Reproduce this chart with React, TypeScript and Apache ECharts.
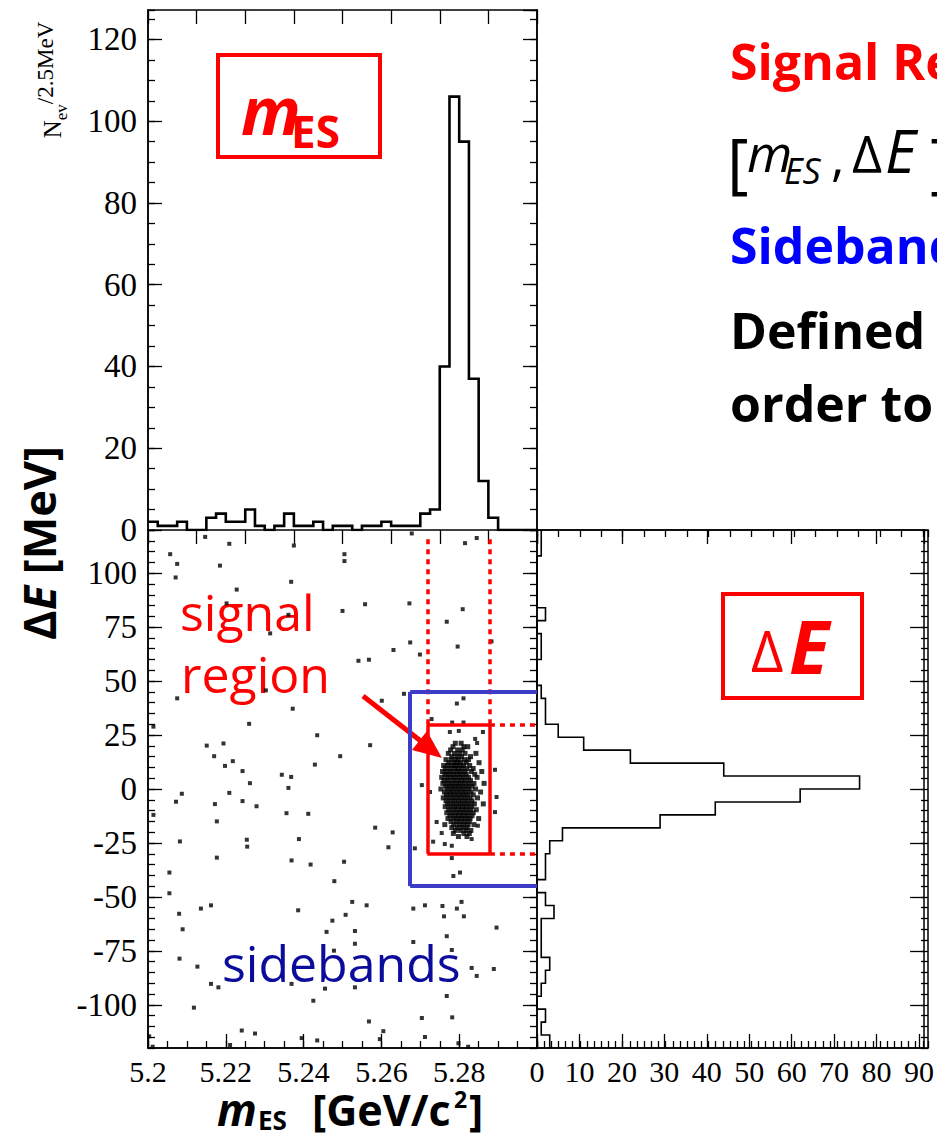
import React, { useEffect, useRef } from "react";
import * as echarts from "echarts";

// m_ES histogram: 40 bins of 2.5 MeV from 5.20 to 5.30 GeV/c^2
const MES_MIN = 5.2;
const MES_MAX = 5.3;
const MES_BIN = 0.0025;
const mesCounts = [
  2, 1, 1, 2, 0, 0, 3, 4, 2, 2,
  5, 1, 0, 1, 4, 1, 1, 2, 0, 1,
  1, 0, 1, 1, 2, 1, 1, 1, 4, 5,
  40, 106, 95, 37, 12, 3, 0, 0, 0, 0,
];

// ΔE histogram: 40 bins of 6 MeV, listed from +120 MeV down to -120 MeV
const DE_MIN = -120;
const DE_MAX = 120;
const DE_BIN = 6;
const deCountsFromTop = [
  1, 1, 0, 0, 0, 0, 2, 0, 1, 1,
  0, 0, 1, 2, 2, 5, 11, 22, 44, 76,
  62, 42, 29, 6, 3, 2, 2, 0, 2, 4,
  1, 1, 1, 3, 2, 1, 0, 2, 1, 3,
];

// Histogram axis tops (1.2 x peak, as in the original frames)
const MES_HIST_MAX = 127.2;
const DE_HIST_MAX = 91.2;

const deMajorTicks = [-100, -75, -50, -25, 0, 25, 50, 75, 100];

// Signal peak events: rows of [ΔE (MeV), m_ES values (GeV/c^2)]
const clusterRows: [number, number[]][] = [
  [21.2, [5.279, 5.2805]],
  [19.6, [5.2784, 5.2812, 5.2822]],
  [18.1, [5.2778, 5.2796, 5.2808]],
  [16.5, [5.2772, 5.2788, 5.2801, 5.2815, 5.2843]],
  [15.0, [5.2781, 5.2794, 5.2806, 5.2829]],
  [13.6, [5.2766, 5.2779, 5.279, 5.2799, 5.2813, 5.2824]],
  [12.2, [5.2773, 5.2786, 5.2795, 5.2804, 5.2818, 5.2851]],
  [10.9, [5.276, 5.277, 5.2782, 5.2791, 5.2801, 5.2811, 5.2827]],
  [9.5, [5.2764, 5.2776, 5.2788, 5.2797, 5.2808, 5.282, 5.2836]],
  [8.1, [5.2757, 5.2769, 5.278, 5.2792, 5.2803, 5.2815, 5.2831, 5.2858]],
  [6.8, [5.2763, 5.2774, 5.2785, 5.2796, 5.2807, 5.2818, 5.284]],
  [5.4, [5.2755, 5.2768, 5.2779, 5.279, 5.2801, 5.2812, 5.2824, 5.2846]],
  [4.0, [5.2761, 5.2772, 5.2784, 5.2795, 5.2806, 5.2817, 5.2829]],
  [2.6, [5.2758, 5.277, 5.2781, 5.2792, 5.2803, 5.2814, 5.2826, 5.2838, 5.2864]],
  [1.3, [5.2765, 5.2776, 5.2787, 5.2798, 5.2809, 5.2821, 5.2833]],
  [0.0, [5.2753, 5.2769, 5.278, 5.2791, 5.2802, 5.2813, 5.2825, 5.2842]],
  [-1.4, [5.2762, 5.2774, 5.2785, 5.2796, 5.2807, 5.2818, 5.283, 5.2855]],
  [-2.7, [5.2767, 5.2778, 5.2789, 5.28, 5.2811, 5.2822, 5.2836]],
  [-4.1, [5.2759, 5.2771, 5.2783, 5.2794, 5.2805, 5.2816, 5.2828, 5.2847]],
  [-5.5, [5.2766, 5.2777, 5.2788, 5.2799, 5.281, 5.2821, 5.2833]],
  [-6.9, [5.277, 5.2782, 5.2793, 5.2804, 5.2815, 5.2826, 5.2839, 5.2862]],
  [-8.2, [5.2764, 5.2776, 5.2787, 5.2798, 5.2809, 5.282, 5.2832]],
  [-9.6, [5.2773, 5.2785, 5.2796, 5.2807, 5.2818, 5.2829, 5.2844]],
  [-11.0, [5.2768, 5.278, 5.2791, 5.2802, 5.2813, 5.2824, 5.2836]],
  [-12.4, [5.2776, 5.2788, 5.2799, 5.281, 5.2821, 5.2833]],
  [-13.7, [5.2771, 5.2784, 5.2795, 5.2806, 5.2817, 5.2828, 5.285]],
  [-15.1, [5.2779, 5.2792, 5.2803, 5.2814, 5.2826]],
  [-16.5, [5.2763, 5.2786, 5.2799, 5.2811, 5.2823, 5.2838]],
  [-17.9, [5.2781, 5.2795, 5.2808, 5.282]],
  [-19.2, [5.279, 5.2803, 5.2817, 5.283]],
  [-20.6, [5.2785, 5.2812, 5.2826]],
  [-22.0, [5.2798, 5.282]],
];

// Combinatorial background events [m_ES, ΔE]
const background: [number, number][] = [
  [5.2147, 116.8], [5.2209, 113.6], [5.2375, 112.8], [5.2678, 118.4], [5.2815, 113.9],
  [5.2845, 116.3], [5.2057, 108.8], [5.2075, 104.3], [5.2185, 103.5], [5.2505, 108.8],
  [5.2505, 105.6], [5.2071, 98.0], [5.2368, 96.0], [5.2228, 92.4], [5.2202, 86.0],
  [5.2558, 85.6], [5.2672, 86.0], [5.2809, 83.3], [5.25, 82.5], [5.2361, 80.7],
  [5.2768, 77.5], [5.2314, 72.1], [5.2883, 68.4], [5.2674, 67.9], [5.2796, 66.0],
  [5.2631, 64.4], [5.2699, 62.3], [5.2568, 59.9], [5.2541, 59.4], [5.2075, 42.0],
  [5.2658, 44.1], [5.2811, 42.0], [5.2794, 39.6], [5.2601, 40.9], [5.2372, 37.2],
  [5.2303, 45.7], [5.2014, 28.9], [5.226, 30.2], [5.2729, 32.4], [5.2782, 30.8],
  [5.2811, 30.8], [5.2435, 24.9], [5.2151, 20.1], [5.2194, 21.1], [5.2571, 20.3],
  [5.217, 15.2], [5.2494, 15.2], [5.2218, 12.9], [5.2198, 10.7], [5.2429, 11.3],
  [5.2243, 8.3], [5.2344, 6.6], [5.2368, 5.6], [5.2262, 2.7], [5.2361, 0.5],
  [5.2704, 1.8], [5.2087, -2.2], [5.2209, -1.8], [5.2072, -5.9], [5.2243, -5.6],
  [5.2172, -7.0], [5.2279, -8.0], [5.2014, -12.0], [5.2356, -11.2], [5.2412, -11.5],
  [5.2177, -15.0], [5.2584, -17.9], [5.2629, -20.1], [5.2082, -24.3], [5.2254, -23.5],
  [5.2255, -26.7], [5.2388, -23.2], [5.2618, -27.0], [5.2686, -27.5], [5.2177, -31.8],
  [5.2369, -33.1], [5.2418, -35.0], [5.2504, -33.7], [5.2055, -38.7], [5.2479, -42.7],
  [5.2785, -40.3], [5.2802, -38.7], [5.2055, -48.3], [5.2136, -55.4], [5.2162, -53.9],
  [5.208, -57.8], [5.2386, -56.2], [5.2525, -52.3], [5.2562, -53.9], [5.2682, -55.4],
  [5.2712, -53.9], [5.2757, -54.2], [5.2806, -52.3], [5.2794, -55.4], [5.2761, -59.0],
  [5.2812, -59.0], [5.2508, -58.3], [5.2474, -61.0], [5.2089, -65.0], [5.2459, -66.2],
  [5.2532, -65.8], [5.2896, -64.2], [5.2768, -68.2], [5.2682, -70.9], [5.2532, -71.7],
  [5.2478, -74.9], [5.2781, -74.6], [5.2081, -78.6], [5.2127, -82.3], [5.2832, -82.9],
  [5.2889, -83.4], [5.2845, -86.6], [5.2162, -90.3], [5.2181, -91.9], [5.2369, -90.3],
  [5.2455, -92.5], [5.2532, -91.9], [5.2768, -95.9], [5.2118, -101.3], [5.2425, -98.1],
  [5.2704, -106.1], [5.2782, -105.8], [5.2568, -107.7], [5.2241, -111.9], [5.2275, -113.3],
  [5.2605, -112.2], [5.2395, -115.4], [5.2435, -116.5], [5.2596, -115.9], [5.2712, -114.9],
  [5.2798, -117.8], [5.2823, -119.4], [5.2211, -118.6], [5.2012, -119.4], [5.2003, -114.6],
  [5.2799, 26.9], [5.2776, 26.4], [5.2841, 23.2], [5.2846, 21.3], [5.2861, 26.4],
  [5.2892, 8.9], [5.2896, -3.7], [5.2892, -10.7], [5.2725, -1.4], [5.2742, -15.3],
  [5.2755, -20.4], [5.2832, -23.2], [5.2848, -17.0], [5.2733, -24.4], [5.2763, -25.5],
  [5.2781, -26.3], [5.2781, -32.0],
];

// Region definitions
const signalMes = [5.2718, 5.2879];
const signalDe = [-30, 30];
const sidebandMes = [5.2674, 5.3];
const sidebandDe = [-45, 45];
const dottedTopDe = 118;

const SERIF = "'Liberation Serif', 'DejaVu Serif', serif";
const SANS = "'Open Sans', 'DejaVu Sans', sans-serif";
const RED = "#ff0000";
const BOX_BLUE = "#3c3cc8";

type AxisOpts = {
  grid: number;
  pos: string;
  min: number;
  max: number;
  interval?: number;
  len?: number;
  custom?: number[];
  labels?: any;
  show?: boolean;
};

function axis(o: AxisOpts) {
  const tick: any = {
    show: true,
    inside: true,
    length: o.len ?? 14,
    lineStyle: { color: "#000", width: 1.3 },
  };
  if (o.custom) tick.customValues = o.custom;
  const label: any = o.labels ? { show: true, ...o.labels } : { show: false };
  if (o.custom && o.labels) label.customValues = o.custom;
  const a: any = {
    type: "value",
    gridIndex: o.grid,
    position: o.pos,
    min: o.min,
    max: o.max,
    show: o.show !== false,
    axisLine: { show: true, onZero: false, lineStyle: { color: "#000", width: 1.5 } },
    axisTick: tick,
    minorTick: { show: false },
    axisLabel: label,
    splitLine: { show: false },
  };
  if (o.interval !== undefined) a.interval = o.interval;
  return a;
}

// Outline of a histogram with bins along x
function outlineX(counts: number[], lo: number, w: number) {
  const pts: number[][] = [];
  counts.forEach((c, i) => {
    pts.push([lo + i * w, c], [lo + (i + 1) * w, c]);
  });
  return pts;
}

// Outline of a histogram with bins along y, listed from the top
function outlineY(counts: number[], hi: number, w: number) {
  const pts: number[][] = [];
  counts.forEach((c, i) => {
    pts.push([c, hi - i * w], [c, hi - (i + 1) * w]);
  });
  return pts;
}

function word(
  x: number,
  base: number,
  text: string,
  size: number,
  color: string,
  weight = "normal",
  style = "normal",
  family = SANS
) {
  return {
    type: "text",
    x,
    y: base - 0.34 * size,
    silent: true,
    style: {
      text,
      fill: color,
      fontSize: size,
      fontFamily: family,
      fontWeight: weight,
      fontStyle: style,
      align: "left",
      verticalAlign: "middle",
    },
  };
}

function seg(a: number[], b: number[], color: string, width: number, type: any = "solid") {
  return [
    { coord: a, lineStyle: { color, width, type, cap: "butt" } },
    { coord: b },
  ];
}

export default function App() {
  const ref = useRef<HTMLDivElement>(null);

  useEffect(() => {
    if (!ref.current) return;
    const chart = echarts.init(ref.current, undefined, { renderer: "svg" });

    const numLabel = { fontFamily: SERIF, fontSize: 33, color: "#000" };

    const clusterData: number[][] = [];
    clusterRows.forEach(([de, list]) => list.forEach((m) => clusterData.push([m, de])));

    const option: any = {
      animation: false,
      backgroundColor: "#ffffff",
      grid: [
        { left: 148, top: 10, width: 389, height: 520 },
        { left: 148, top: 530, width: 389, height: 518 },
        { left: 537, top: 530, width: 391, height: 518 },
        { left: 148, top: 10, width: 389, height: 520 },
        { left: 148, top: 530, width: 389, height: 518 },
        { left: 537, top: 530, width: 391, height: 518 },
      ],
      xAxis: [
        axis({ grid: 0, pos: "top", min: MES_MIN, max: MES_MAX, interval: 0.0125 }),
        axis({ grid: 3, pos: "bottom", min: MES_MIN, max: MES_MAX, show: false }),
        axis({
          grid: 1, pos: "bottom", min: MES_MIN, max: MES_MAX, interval: 0.02,
          labels: {
            ...numLabel, fontSize: 30, margin: 8, showMaxLabel: false,
            formatter: (v: number) => String(Number(v.toFixed(3))),
          },
        }),
        axis({ grid: 1, pos: "top", min: MES_MIN, max: MES_MAX, interval: 0.0125 }),
        axis({ grid: 4, pos: "bottom", min: MES_MIN, max: MES_MAX, interval: 0.005, len: 7 }),
        axis({
          grid: 2, pos: "bottom", min: 0, max: DE_HIST_MAX, interval: 10,
          labels: { ...numLabel, fontSize: 30, margin: 8, showMaxLabel: false },
        }),
        axis({ grid: 2, pos: "top", min: 0, max: DE_HIST_MAX, interval: 20 }),
        axis({ grid: 5, pos: "bottom", min: 0, max: DE_HIST_MAX, interval: 10 / 6, len: 7 }),
        axis({ grid: 5, pos: "top", min: 0, max: DE_HIST_MAX, interval: 5, len: 7 }),
      ],
      yAxis: [
        axis({
          grid: 0, pos: "left", min: 0, max: MES_HIST_MAX, interval: 20,
          labels: { ...numLabel, margin: 11, showMaxLabel: false },
        }),
        axis({ grid: 0, pos: "right", min: 0, max: MES_HIST_MAX, interval: 20 }),
        axis({ grid: 3, pos: "left", min: 0, max: MES_HIST_MAX, interval: 5, len: 7 }),
        axis({ grid: 3, pos: "right", min: 0, max: MES_HIST_MAX, interval: 5, len: 7 }),
        axis({
          grid: 1, pos: "left", min: DE_MIN, max: DE_MAX, custom: deMajorTicks,
          labels: { ...numLabel, margin: 11 },
        }),
        axis({ grid: 1, pos: "right", min: DE_MIN, max: DE_MAX, custom: deMajorTicks }),
        axis({ grid: 4, pos: "left", min: DE_MIN, max: DE_MAX, interval: 5, len: 7 }),
        axis({ grid: 4, pos: "right", min: DE_MIN, max: DE_MAX, interval: 5, len: 7 }),
        axis({ grid: 2, pos: "right", min: DE_MIN, max: DE_MAX, custom: deMajorTicks }),
        axis({ grid: 5, pos: "right", min: DE_MIN, max: DE_MAX, interval: 5, len: 7 }),
      ],
      series: [
        {
          type: "line",
          name: "mES",
          xAxisIndex: 0,
          yAxisIndex: 0,
          data: outlineX(mesCounts, MES_MIN, MES_BIN),
          showSymbol: false,
          silent: true,
          lineStyle: { color: "#000", width: 2.6, join: "miter" },
          z: 3,
        },
        {
          type: "line",
          name: "dE",
          xAxisIndex: 5,
          yAxisIndex: 8,
          data: outlineY(deCountsFromTop, DE_MAX, DE_BIN),
          showSymbol: false,
          silent: true,
          lineStyle: { color: "#000", width: 1.6, join: "miter" },
          z: 3,
        },
        {
          type: "scatter",
          name: "background",
          xAxisIndex: 2,
          yAxisIndex: 4,
          data: background,
          symbol: "rect",
          symbolSize: 4,
          silent: true,
          itemStyle: { color: "#000" },
          z: 2,
        },
        {
          type: "scatter",
          name: "signal",
          xAxisIndex: 2,
          yAxisIndex: 4,
          data: clusterData,
          symbol: "rect",
          symbolSize: 5,
          silent: true,
          itemStyle: { color: "#000" },
          z: 2,
          markLine: {
            silent: true,
            symbol: ["none", "none"],
            label: { show: false },
            z: 6,
            data: [
              // signal region box
              seg([signalMes[0], signalDe[1]], [signalMes[1], signalDe[1]], RED, 3.5),
              seg([signalMes[0], signalDe[0]], [signalMes[1], signalDe[0]], RED, 3.5),
              seg([signalMes[0], signalDe[0]], [signalMes[0], signalDe[1]], RED, 3.5),
              seg([signalMes[1], signalDe[0]], [signalMes[1], signalDe[1]], RED, 3.5),
              // projections of the signal region
              seg([signalMes[0], signalDe[1]], [signalMes[0], dottedTopDe], RED, 3.5, [5, 5]),
              seg([signalMes[1], signalDe[1]], [signalMes[1], dottedTopDe], RED, 3.5, [5, 5]),
              seg([signalMes[1], signalDe[1]], [MES_MAX, signalDe[1]], RED, 3.5, [5, 5]),
              seg([signalMes[1], signalDe[0]], [MES_MAX, signalDe[0]], RED, 3.5, [5, 5]),
              // sideband box
              seg([sidebandMes[0], sidebandDe[1]], [sidebandMes[1], sidebandDe[1]], BOX_BLUE, 4),
              seg([sidebandMes[0], sidebandDe[0]], [sidebandMes[1], sidebandDe[0]], BOX_BLUE, 4),
              seg([sidebandMes[0], sidebandDe[0]], [sidebandMes[0], sidebandDe[1]], BOX_BLUE, 4),
            ],
          },
        },
      ],
      graphic: [
        // m_ES box in the top panel
        {
          type: "rect",
          shape: { x: 218, y: 55, width: 162, height: 102 },
          style: { fill: "none", stroke: RED, lineWidth: 4 },
          silent: true,
        },
        word(241, 131, "m", 66, RED, "bold", "italic"),
        word(291, 146, "ES", 44, RED, "bold"),
        // ΔE box in the right panel
        {
          type: "rect",
          shape: { x: 723, y: 594, width: 139, height: 104 },
          style: { fill: "none", stroke: RED, lineWidth: 4 },
          silent: true,
        },
        word(751, 669, "Δ", 56, RED),
        word(789, 671, "E", 74, RED, "bold", "italic"),
        // scatter annotations
        word(180, 629, "signal", 50, RED),
        word(181, 691, "region", 50, RED),
        {
          type: "line",
          shape: { x1: 363, y1: 696, x2: 422, y2: 742 },
          style: { stroke: RED, lineWidth: 5 },
          silent: true,
        },
        {
          type: "polygon",
          shape: { points: [[442, 758], [412, 750], [427, 731]] },
          style: { fill: RED },
          silent: true,
        },
        word(222, 980, "sidebands", 50, "#0c0c9c"),
        // axis titles
        {
          type: "text",
          x: 38,
          y: 543,
          rotation: Math.PI / 2,
          silent: true,
          style: {
            text: "{d|Δ}{e|E}{d| [MeV]}",
            align: "center",
            verticalAlign: "middle",
            fill: "#000",
            fontFamily: SANS,
            fontWeight: "bold",
            fontSize: 45,
            rich: {
              d: { fontFamily: SANS, fontWeight: "bold", fontSize: 45, fill: "#000" },
              e: { fontFamily: SANS, fontWeight: "bold", fontStyle: "italic", fontSize: 45, fill: "#000" },
            },
          },
        },
        {
          type: "text",
          x: 52,
          y: 80,
          rotation: Math.PI / 2,
          silent: true,
          style: {
            text: "{n|N}{s|ev}{u|/2.5MeV}",
            align: "center",
            verticalAlign: "middle",
            fill: "#000",
            fontFamily: SERIF,
            fontSize: 23,
            rich: {
              n: { fontFamily: SERIF, fontSize: 25, fill: "#000", lineHeight: 36, verticalAlign: "middle" },
              s: { fontFamily: SERIF, fontSize: 17, fill: "#000", lineHeight: 36, verticalAlign: "bottom" },
              u: { fontFamily: SERIF, fontSize: 23, fill: "#000", lineHeight: 36, verticalAlign: "top" },
            },
          },
        },
        word(217, 1124, "m", 44, "#000", "bold", "italic"),
        word(258, 1129, "ES", 26, "#000", "bold"),
        word(312, 1124, "[GeV/c", 43, "#000", "bold"),
        word(454, 1107, "2", 23, "#000", "bold"),
        word(469, 1124, "]", 43, "#000", "bold"),
        // side notes
        word(730, 78, "Signal Region", 50, RED, "bold"),
        word(727, 182, "[", 66, "#000"),
        word(747, 169, "m", 52, "#000", "normal", "italic"),
        word(784, 183, "ES", 36, "#000", "normal", "italic"),
        word(831, 172, ",", 52, "#000"),
        word(852, 170, "Δ", 52, "#000"),
        word(885, 170, "E", 60, "#000", "normal", "italic"),
        word(930, 182, "]", 66, "#000"),
        word(730, 262, "Sidebands", 50, "#0000ff", "bold"),
        word(730, 347, "Defined", 50, "#000", "bold"),
        word(730, 420, "order to", 50, "#000", "bold"),
      ],
    };

    chart.setOption(option);
    return () => chart.dispose();
  }, []);

  return (
    <div
      ref={ref}
      style={{ position: "absolute", left: 0, top: 0, width: 937, height: 1138, background: "#fff" }}
    />
  );
}
